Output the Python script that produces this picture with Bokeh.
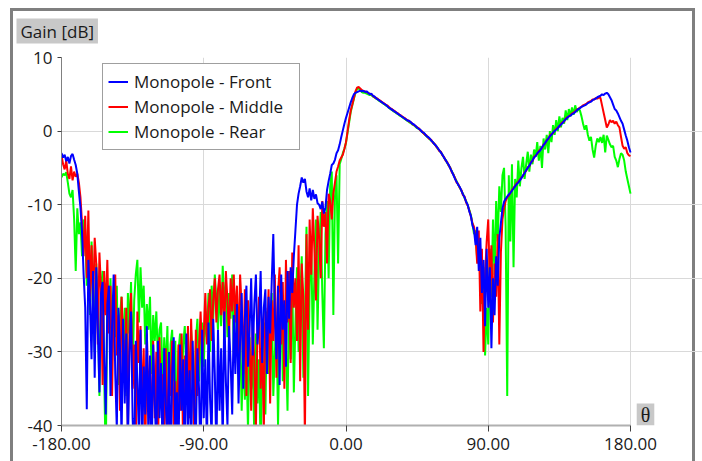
from bokeh.plotting import figure
from bokeh.models import (Range1d, FixedTicker, PrintfTickFormatter, Legend,
                          LegendItem, Label, Title, ColumnDataSource)
from bokeh.embed import file_html
from bokeh.resources import INLINE

theta = list(range(-180, 181))

front = [
    -3.0, -3.6, -3.2, -4.1, -3.5, -4.4, -3.4, -3.1, -3.9, -4.6,
    -5.8, -8.2, -10.4, -13.8, -19.5, -24.0, -37.8, -17.5, -23.0, -31.0,
    -19.0, -33.5, -18.5, -27.0, -35.5, -22.0, -20.5, -31.0, -38.5, -23.5,
    -21.0, -36.0, -26.5, -19.5, -33.0, -40.5, -24.0, -29.5, -42.0, -25.5,
    -37.0, -27.5, -43.0, -30.0, -24.5, -39.0, -45.0, -28.5, -34.0, -41.5,
    -27.0, -44.0, -32.0, -38.5, -26.5, -42.0, -30.5, -46.0, -29.0, -36.5,
    -43.5, -28.5, -39.0, -31.5, -45.0, -29.5, -37.0, -42.5, -30.0, -47.0,
    -33.0, -28.0, -41.0, -35.5, -44.0, -29.0, -38.0, -31.0, -46.5, -27.5,
    -40.0, -32.5, -44.5, -28.5, -37.5, -42.0, -29.5, -35.0, -45.5, -27.0,
    -39.0, -31.0, -43.0, -26.0, -36.5, -41.5, -25.5, -33.0, -44.0, -27.0,
    -38.0, -29.5, -42.5, -24.5, -34.0, -40.0, -26.5, -31.5, -38.5, -25.0,
    -33.0, -23.5, -37.0, -28.5, -22.0, -35.0, -25.5, -21.0, -32.0, -27.0,
    -20.0, -30.5, -23.5, -19.5, -29.0, -26.0, -19.0, -31.5, -24.0, -21.5,
    -33.0, -22.5, -27.5, -20.5, -14.0, -25.0, -31.0, -21.0, -34.5, -19.5,
    -27.0, -23.0, -32.0, -19.0, -25.5, -18.5, -22.0, -17.0, -13.5, -10.0,
    -8.5, -7.5, -6.3, -7.0, -6.5, -8.2, -9.0, -7.8, -9.4, -8.0,
    -9.2, -8.6, -9.8, -10.0, -10.6, -9.6, -11.2, -10.4, -8.0, -6.8,
    -5.8, -4.6, -4.4, -3.9, -3.0, -2.6, -1.8, -0.8, 0.1, 1.0,
    1.8, 2.5, 3.2, 3.9, 4.5, 5.0, 5.2, 5.3, 5.4, 5.5,
    5.4, 5.5, 5.3, 5.4, 5.2, 5.0, 5.1, 4.8, 4.7, 4.5,
    4.3, 4.2, 4.0, 3.9, 3.7, 3.6, 3.4, 3.2, 3.1, 2.9,
    2.8, 2.6, 2.5, 2.3, 2.2, 2.0, 1.9, 1.7, 1.6, 1.4,
    1.4, 1.2, 1.0, 0.9, 0.7, 0.5, 0.3, 0.2, -0.1, -0.2,
    -0.4, -0.7, -0.8, -1.0, -1.3, -1.5, -1.8, -2.0, -2.3, -2.6,
    -2.9, -3.2, -3.6, -3.9, -4.3, -4.6, -5.1, -5.5, -6.0, -6.5,
    -6.9, -7.3, -7.6, -8.1, -8.6, -9.0, -9.6, -10.0, -10.9, -11.5,
    -12.8, -13.5, -15.5, -13.0, -19.0, -14.5, -22.0, -17.5, -26.5, -16.0,
    -24.0, -18.5, -29.5, -20.0, -25.0, -17.0, -21.0, -14.5, -12.5, -10.5,
    -9.6, -9.2, -8.9, -8.6, -8.4, -8.1, -7.8, -7.5, -7.2, -7.0,
    -6.7, -6.4, -6.0, -5.7, -5.3, -5.0, -4.7, -4.3, -4.0, -3.6,
    -3.4, -3.0, -2.8, -2.6, -2.2, -1.9, -1.6, -1.3, -1.0, -0.7,
    -0.5, -0.2, 0.0, 0.2, 0.4, 0.7, 0.9, 1.1, 1.4, 1.6,
    1.8, 2.0, 2.1, 2.3, 2.4, 2.6, 2.8, 3.0, 3.1, 3.3,
    3.4, 3.5, 3.6, 3.8, 3.9, 4.0, 4.2, 4.3, 4.4, 4.6,
    4.7, 4.8, 5.0, 4.9, 5.1, 5.2, 5.0, 4.6, 4.2, 3.6,
    3.0, 2.8, 2.4, 1.9, 1.4, 1.0, 0.2, -0.6, -1.3, -2.2, -2.9,
]

middle = [
    -3.3, -4.5, -5.2, -4.0, -5.8, -6.5, -4.8, -6.7, -5.5, -6.2,
    -5.8, -7.0, -9.0, -12.5, -17.0, -11.5, -20.0, -10.8, -22.5, -15.5,
    -24.0, -14.5, -18.0, -29.0, -16.5, -21.5, -34.5, -19.0, -25.0, -17.5,
    -27.5, -21.0, -36.0, -23.0, -19.5, -30.5, -25.0, -38.0, -22.5, -28.0,
    -33.5, -24.0, -41.0, -26.5, -22.0, -35.0, -29.0, -43.0, -24.5, -31.5,
    -26.5, -38.0, -29.5, -44.0, -27.5, -36.5, -32.0, -42.0, -28.5, -39.0,
    -30.0, -45.0, -28.0, -37.5, -33.0, -41.0, -29.5, -46.0, -31.0, -36.0,
    -28.5, -40.5, -34.0, -43.0, -29.0, -38.0, -27.5, -44.5, -30.5, -35.0,
    -26.5, -39.0, -25.5, -33.0, -42.0, -27.0, -36.0, -29.5, -24.5, -31.0,
    -27.5, -22.0, -29.0, -24.0, -21.5, -28.5, -23.0, -20.0, -26.0, -21.5,
    -19.5, -25.0, -20.5, -27.5, -19.0, -23.0, -28.0, -20.0, -24.5, -19.5,
    -26.0, -21.0, -30.5, -19.5, -24.0, -33.0, -21.5, -36.0, -23.0, -29.0,
    -38.0, -25.0, -31.5, -40.5, -27.0, -22.5, -35.0, -28.5, -41.0, -24.0,
    -30.0, -21.5, -37.0, -23.0, -28.5, -19.5, -33.5, -22.0, -18.5, -29.0,
    -20.5, -35.0, -17.5, -26.0, -19.0, -31.5, -16.5, -24.0, -20.0, -28.5,
    -15.5, -34.0, -18.0, -22.5, -42.0, -14.0, -27.0, -12.0, -19.5, -10.5,
    -16.0, -23.0, -11.5, -14.5, -20.0, -9.5, -13.0, -11.0, -18.0, -8.5,
    -9.5, -12.0, -8.5, -7.0, -5.5, -4.8, -4.0, -3.6, -3.2, -2.4,
    -1.5, 0.0, 1.5, 2.8, 3.6, 4.5, 5.4, 5.9, 6.0, 5.8,
    5.6, 5.4, 5.4, 5.3, 5.2, 5.1, 5.0, 4.8, 4.6, 4.5,
    4.4, 4.2, 4.1, 3.9, 3.8, 3.6, 3.5, 3.3, 3.1, 3.0,
    2.8, 2.7, 2.5, 2.4, 2.2, 2.1, 1.9, 1.8, 1.6, 1.5,
    1.3, 1.2, 1.0, 0.8, 0.7, 0.5, 0.4, 0.1, 0.0, -0.3,
    -0.5, -0.6, -0.9, -1.1, -1.2, -1.6, -1.7, -2.1, -2.3, -2.7,
    -2.8, -3.3, -3.5, -4.0, -4.2, -4.7, -5.0, -5.6, -5.9, -6.4,
    -7.0, -7.2, -7.7, -8.0, -8.7, -8.9, -9.7, -10.1, -10.8, -11.6,
    -12.5, -13.0, -14.5, -18.0, -13.5, -24.5, -16.0, -30.0, -19.5, -15.0,
    -12.0, -21.0, -15.5, -26.0, -18.0, -22.5, -14.0, -29.0, -16.5, -12.0,
    -10.5, -9.5, -9.0, -8.8, -8.4, -8.0, -7.7, -7.4, -7.1, -6.9,
    -6.6, -6.3, -6.1, -5.6, -5.4, -4.9, -4.8, -4.2, -4.1, -3.5,
    -3.3, -3.1, -2.7, -2.5, -2.3, -1.8, -1.7, -1.2, -1.1, -0.6,
    -0.4, -0.3, 0.1, 0.3, 0.5, 0.6, 1.0, 1.2, 1.3, 1.7,
    1.9, 2.0, 2.2, 2.4, 2.5, 2.7, 2.9, 3.0, 3.2, 3.3,
    3.5, 3.6, 3.7, 3.9, 4.0, 4.1, 4.3, 4.3, 4.5, 4.4,
    4.6, 4.5, 3.5, 2.5, 1.5, 0.5, 0.9, 1.5, 1.2, 1.4,
    1.0, 1.3, 0.8, 0.5, -0.8, -2.0, -2.4, -2.2, -3.0, -3.3, -3.4,
]

rear = [
    -6.3, -5.8, -6.0, -5.6, -7.0, -8.5, -9.0, -8.0, -12.0, -19.0,
    -10.5, -14.0, -12.4, -17.0, -12.0, -13.5, -21.0, -16.0, -25.0, -15.0,
    -20.0, -30.0, -18.0, -24.0, -36.0, -21.5, -19.0, -33.0, -45.0, -22.0,
    -26.5, -20.0, -31.0, -23.5, -28.0, -21.0, -34.5, -25.0, -22.5, -30.0,
    -24.0, -36.0, -22.0, -27.5, -20.5, -33.0, -23.0, -19.5, -17.5, -26.0,
    -18.5, -24.0, -21.0, -29.0, -23.5, -27.0, -22.5, -33.0, -25.0, -28.5,
    -24.5, -31.0, -27.0, -26.0, -35.0, -28.0, -32.5, -26.5, -38.0, -29.0,
    -27.0, -34.0, -28.5, -42.0, -30.0, -27.5, -36.0, -29.0, -26.5, -33.5,
    -28.0, -37.5, -27.0, -31.0, -40.0, -28.5, -25.5, -34.0, -29.0, -26.0,
    -32.0, -24.5, -28.0, -22.0, -30.0, -21.0, -25.5, -19.5, -23.0, -27.0,
    -21.0, -26.5, -18.3, -24.0, -20.5, -28.0, -22.0, -25.5, -19.5, -30.0,
    -24.0, -21.5, -33.0, -27.0, -38.0, -29.5, -36.5, -31.0, -40.5, -28.0,
    -35.0, -30.0, -42.0, -27.5, -37.0, -31.0, -44.0, -29.0, -26.0, -38.5,
    -24.5, -33.0, -28.0, -22.0, -36.0, -30.0, -25.5, -40.0, -27.0, -21.5,
    -34.0, -24.0, -29.5, -38.0, -22.5, -31.0, -20.0, -35.5, -26.0, -18.5,
    -30.0, -23.0, -17.0, -33.5, -25.0, -13.0, -36.0, -21.0, -15.0, -29.0,
    -19.5, -12.0, -27.0, -16.0, -11.0, -22.0, -29.5, -14.0, -9.5, -20.0,
    -7.5, -5.5, -25.0, -9.0, -6.0, -18.0, -4.5, -3.8, -3.0, -2.4,
    -1.6, -0.2, 1.2, 2.6, 3.5, 4.4, 5.2, 5.7, 5.8, 5.6,
    5.3, 5.2, 5.2, 5.1, 5.0, 4.9, 4.9, 4.7, 4.6, 4.4,
    4.3, 4.1, 4.0, 3.8, 3.7, 3.5, 3.4, 3.2, 3.0, 2.9,
    2.7, 2.6, 2.4, 2.3, 2.1, 2.0, 1.8, 1.7, 1.5, 1.4,
    1.2, 1.1, 0.9, 0.8, 0.6, 0.4, 0.3, 0.1, -0.1, -0.3,
    -0.5, -0.7, -0.9, -1.1, -1.3, -1.5, -1.8, -2.0, -2.4, -2.6,
    -2.9, -3.2, -3.6, -3.9, -4.3, -4.7, -5.0, -5.5, -5.9, -6.4,
    -6.8, -7.3, -7.7, -8.1, -8.5, -9.1, -9.5, -10.1, -10.7, -11.4,
    -12.6, -14.0, -13.5, -17.5, -15.0, -20.0, -23.5, -18.5, -30.5, -24.0,
    -29.0, -16.0, -22.5, -12.0, -19.5, -9.5, -15.0, -7.5, -11.0, -6.0,
    -5.0, -13.0, -36.0, -6.0, -15.0, -4.5, -18.5, -6.5, -9.0, -4.0,
    -7.5, -5.0, -3.5, -6.5, -4.5, -2.8, -5.5, -3.2, -4.5, -2.5,
    -3.5, -1.5, -4.0, -2.0, -5.0, -1.0, -2.5, -0.5, -3.0, 0.0,
    -1.5, 0.8, -0.5, 1.5, 0.0, 2.0, 0.5, 1.8, 1.0, 2.8,
    1.5, 3.0, 2.0, 3.2, 2.2, 3.5, 2.6, 3.0, 2.8, 2.0,
    1.0, 0.2, 0.8, -0.5, -1.3, -0.8, -2.5, -3.6, -2.0, -1.0,
    -1.5, -0.8, -1.6, -0.5, -2.9, -0.6, -1.2, -1.8, -2.2, -2.0,
    -3.5, -4.0, -4.9, -3.8, -3.0, -3.2, -4.0, -5.5, -6.5, -7.5, -8.5,
]

series_names = ["Monopole - Front", "Monopole - Middle", "Monopole - Rear"]
series_colors = ["#0000ff", "#ff0000", "#00ff00"]
x_ticks = [-180, -90, 0, 90, 180]
y_ticks = [-40, -30, -20, -10, 0, 10]
y_title = "Gain [dB]"
x_title = "θ"

assert len(front) == len(middle) == len(rear) == len(theta)

FONT = "Open Sans"
TXT = "#1a1a1a"
X0, X1, Y0, Y1 = -180, 180, -40, 10

W, H = 702, 461
FL, FT, FW, FH = 61, 57, 569, 368                 # data area inside the figure
XEND = X0 + (W - FL) / FW * (X1 - X0)             # frame extends to the right edge


def dx(px):
    return X0 + (px - FL) / FW * (X1 - X0)


def dy(py):
    return Y1 - (py - FT) / FH * (Y1 - Y0)


p = figure(width=W, height=H, output_backend="svg", toolbar_location=None,
           x_range=Range1d(X0, XEND), y_range=Range1d(Y0, Y1),
           min_border_left=FL, min_border_right=0,
           min_border_top=FT, min_border_bottom=H - FT - FH)
p.outline_line_color = None
p.background_fill_alpha = 0
p.border_fill_alpha = 0

# grey outer frame (top, left, right edges) painted behind the transparent canvas
g = "linear-gradient(#7f7f7f,#7f7f7f)"
p.styles = {
    "background": (f"{g} 10px 8px / 685px 3px no-repeat, "
                   f"{g} 10px 8px / 3px {H}px no-repeat, "
                   f"{g} 692px 8px / 3px {H}px no-repeat, white"),
}

src = ColumnDataSource(dict(theta=theta, front=front, middle=middle, rear=rear))
r_rear = p.line("theta", "rear", source=src, line_color=series_colors[2], line_width=2)
r_mid = p.line("theta", "middle", source=src, line_color=series_colors[1], line_width=2)
r_front = p.line("theta", "front", source=src, line_color=series_colors[0], line_width=2)

# axes
p.xaxis.ticker = FixedTicker(ticks=x_ticks)
p.yaxis.ticker = FixedTicker(ticks=y_ticks)
p.xaxis.formatter = PrintfTickFormatter(format="%.2f")
p.yaxis.formatter = PrintfTickFormatter(format="%d")
p.xaxis.bounds = (X0, X1)
for ax in (p.xaxis[0], p.yaxis[0]):
    ax.major_label_text_font = FONT
    ax.major_label_text_font_size = "17px"
    ax.major_label_text_color = TXT
    ax.minor_tick_line_color = None
    ax.major_tick_in = 0
    ax.major_tick_line_color = "#404040"
p.xaxis.major_tick_out = 6
p.yaxis.major_tick_out = 4
p.xaxis.major_label_standoff = 6
p.yaxis.major_label_standoff = 5
p.xaxis.axis_line_color = "#b0b0b0"
p.xaxis.axis_line_width = 2
p.yaxis.axis_line_color = "#808080"
p.xgrid.grid_line_color = "#d9d9d9"
p.ygrid.grid_line_color = "#d9d9d9"
p.ygrid.bounds = (X0, X1)

legend = Legend(items=[
    LegendItem(label=series_names[0], renderers=[r_front]),
    LegendItem(label=series_names[1], renderers=[r_mid]),
    LegendItem(label=series_names[2], renderers=[r_rear]),
], location=(41, 275))
legend.label_text_font = FONT
legend.label_text_font_size = "17px"
legend.label_text_color = TXT
legend.label_height = 25
legend.label_width = 160
legend.glyph_width = 20
legend.glyph_height = 25
legend.label_standoff = 6
legend.spacing = 0
legend.padding = 5
legend.margin = 0
legend.border_line_color = "#404040"
legend.border_line_width = 1
legend.background_fill_color = "white"
legend.background_fill_alpha = 1
p.add_layout(legend, "center")

# y title, top-left, grey box
ttl = Title(text=y_title, align="left", text_font=FONT, text_font_size="17px",
            text_font_style="normal", text_color=TXT,
            background_fill_color="#c8c8c8", offset=16 - 61)
props = Title.properties()
if "standoff" in props:
    ttl.standoff = 28
if "padding" in props:
    try:
        ttl.padding = (4, 1)
    except Exception:
        ttl.padding = 1
p.add_layout(ttl, "above")

# x title, right of the axis end, grey box
xlab = Label(x=dx(645), y=dy(414), text=x_title,
             text_font="Liberation Serif", text_font_size="20px", text_color=TXT,
             text_align="center", text_baseline="middle",
             background_fill_color="#c8c8c8")
try:
    xlab.padding = (4, 0)
except Exception:
    xlab.padding = 2
p.add_layout(xlab)

open("out.html", "w").write(file_html(p, INLINE))
